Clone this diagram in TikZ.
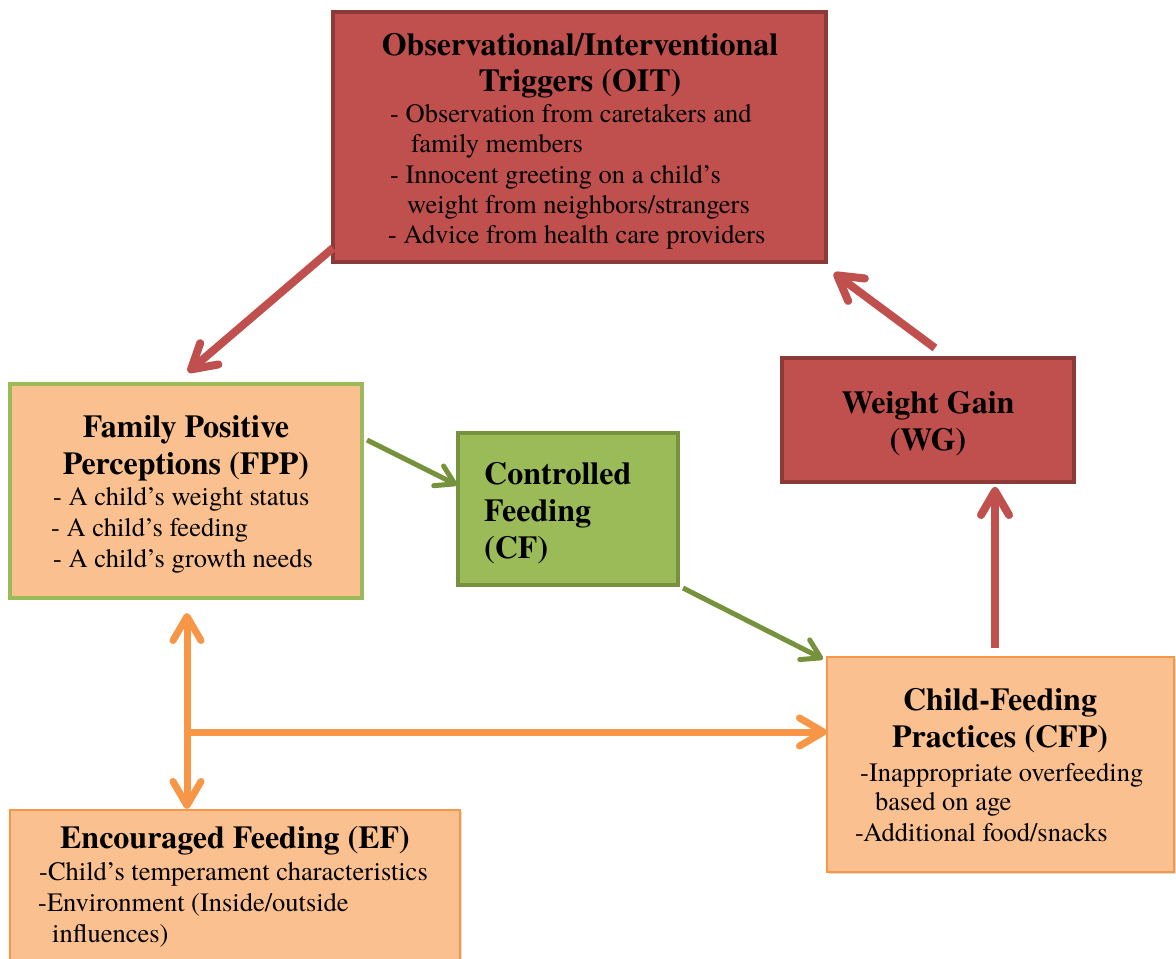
\documentclass[tikz,border=0pt]{standalone}
\usepackage{fontspec}
\IfFontExistsTF{texgyretermes-regular.otf}
  {\setmainfont{texgyretermes}[Extension=.otf,UprightFont=*-regular,BoldFont=*-bold,ItalicFont=*-italic,BoldItalicFont=*-bolditalic]}
  {\setmainfont{Liberation Serif}}
\usetikzlibrary{arrows.meta,calc,shadows}
\definecolor{oitred}{HTML}{C0504D}
\definecolor{oitedge}{HTML}{8C3A38}
\definecolor{peach}{HTML}{FAC090}
\definecolor{leaf}{HTML}{9BBB59}
\definecolor{leafedge}{HTML}{76923C}
\definecolor{tang}{HTML}{F79646}
\begin{document}
\begin{tikzpicture}[x=1pt,y=-1pt,
  box/.style={rectangle, inner sep=0pt, outer sep=0pt, anchor=north west,
    drop shadow={shadow xshift=2pt,shadow yshift=-2pt,opacity=0.22,fill=black!60}},
  redbox/.style={box, fill=oitred, draw=oitedge, line width=4pt},
  peachbox/.style={box, fill=peach, draw=tang, line width=2.5pt},
  ttl/.style={font=\fontsize{32}{36}\selectfont\bfseries, inner sep=0pt, anchor=base},
  ttlw/.style={ttl, anchor=base west},
  bodyl/.style={font=\fontsize{26.5}{30}\selectfont, inner sep=0pt, anchor=base west},
  redarr/.style={draw=oitred, line width=8pt, -{Straight Barb[length=24pt,width=28pt,round]}},
  greenarr/.style={draw=leafedge, line width=5pt, -{Straight Barb[length=18pt,width=22pt,round]}},
  orarr/.style={draw=tang, line width=7pt, -{Straight Barb[length=24pt,width=28pt,round]}},
  orarrtwo/.style={draw=tang, line width=7pt, {Straight Barb[length=24pt,width=28pt,round]}-{Straight Barb[length=24pt,width=28pt,round]}}
]
\useasboundingbox[fill=white] (0,0) rectangle (1176,959);

% boxes
\node[redbox, minimum width=493pt, minimum height=250pt] (oit) at (333,12) {};
\node[redbox, minimum width=292pt, minimum height=124pt] (wg) at (782,358) {};
\node[box, fill=peach, draw=leaf, line width=3.5pt, minimum width=352pt, minimum height=214pt] (fpp) at (10,384) {};
\node[box, fill=leaf, draw=leafedge, line width=4pt, minimum width=220pt, minimum height=152pt] (cf) at (458,433) {};
\node[peachbox, minimum width=347pt, minimum height=215pt] (cfp) at (827,657) {};
\node[peachbox, line width=2pt, minimum width=450pt, minimum height=175pt] (ef) at (10,810) {};

% OIT text
\node[ttl] (oitA) at (580,55) {Observational/Interventional};
\node[ttl] (oitB) at (580,91) {Triggers (OIT)};
\node[bodyl] (oitC) at (390,122) {- Observation from caretakers and};
\node[bodyl] (oitD) at (411,152) {family members};
\node[bodyl] (oitE) at (390,183) {- Innocent greeting on a child’s};
\node[bodyl] (oitF) at (407,213) {weight from neighbors/strangers};
\node[bodyl] (oitG) at (388,243) {- Advice from health care providers};

% FPP text
\node[ttl] (fppA) at (186,437) {Family Positive};
\node[ttl] (fppB) at (186,474) {Perceptions (FPP)};
\node[bodyl] (fppC) at (53,505) {- A child’s weight status};
\node[bodyl] (fppD) at (51,536) {- A child’s feeding};
\node[bodyl] (fppE) at (53,567) {- A child’s growth needs};

% CF text
\node[ttlw] (cfA) at (484,484) {Controlled};
\node[ttlw] (cfB) at (484,521) {Feeding};
\node[ttlw] (cfC) at (484,558) {(CF)};

% WG text
\node[ttl] (wgA) at (928,413) {Weight Gain};
\node[ttl] (wgB) at (928,450) {(WG)};

% CFP text
\node[ttl] (cfpA) at (1000,710) {Child-Feeding};
\node[ttl] (cfpB) at (1000,747) {Practices (CFP)};
\node[bodyl] (cfpC) at (860,781) {-Inappropriate overfeeding};
\node[bodyl] (cfpD) at (875,810) {based on age};
\node[bodyl] (cfpE) at (855,841) {-Additional food/snacks};

% EF text
\node[ttl] (efA) at (235,848) {Encouraged Feeding (EF)};
\node[bodyl] (efB) at (39,880) {-Child’s temperament characteristics};
\node[bodyl] (efC) at (38,911) {-Environment (Inside/outside};
\node[bodyl] (efD) at (52,942) {influences)};

% connectors
\draw[redarr] ($(oit.south west)+(0,-14)$) -- ($(fpp.north west)+(178,-12)$);
\draw[greenarr] ($(fpp.north east)+(5,56)$) -- ($(cf.north west)+(-1,52)$);
\draw[greenarr] ($(cf.south east)+(5,3)$) -- ($(cfp.north west)+(-4,2)$);
\draw[redarr] ($(cfp.north west)+(168,-9)$) -- ($(wg.south west)+(213,5)$);
\draw[redarr] ($(wg.north west)+(153,-10)$) -- ($(oit.south east)+(8,11)$);
\coordinate (junc) at ($(fpp.south west)+(177,134)$);
\draw[orarrtwo] ($(fpp.south west)+(177,15)$) -- ($(ef.north west)+(177,-1)$);
\draw[orarr] ([xshift=-3.5pt]junc) -- ($(cfp.north west)+(0,75)$);
\end{tikzpicture}
\end{document}
